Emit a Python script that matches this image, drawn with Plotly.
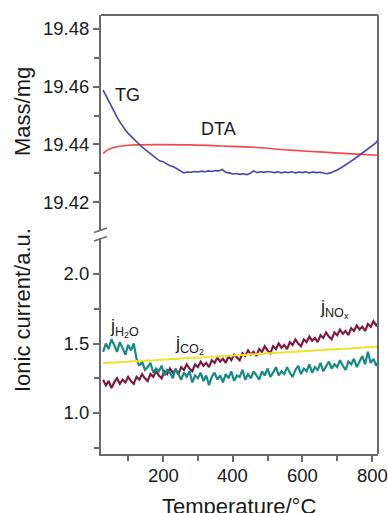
import plotly.graph_objects as go

# --- TG / DTA (upper panel) ---
tg_temp = [28, 36, 44, 52, 60, 68, 76, 84, 92, 100, 110, 120, 130, 140, 150, 160, 170,
           180, 190, 200, 210, 220, 230, 240, 250, 260, 270, 280, 290, 300, 310, 320,
           330, 340, 350, 360, 370, 380, 390, 400, 410, 420, 430, 440, 450, 460, 470,
           480, 490, 500, 510, 520, 530, 540, 550, 560, 570, 580, 590, 600, 610, 620,
           630, 640, 650, 660, 670, 680, 690, 700, 710, 720, 730, 740, 750, 760, 770,
           780, 790, 800, 810, 818]
tg_mass = [19.4588, 19.4568, 19.4549, 19.4530, 19.4512, 19.4494, 19.4478, 19.4463,
           19.4450, 19.4438, 19.4425, 19.4413, 19.4402, 19.4390, 19.4381, 19.4370,
           19.4361, 19.4352, 19.4343, 19.4340, 19.4332, 19.4326, 19.4322, 19.4314,
           19.4306, 19.4301, 19.4304, 19.4303, 19.4306, 19.4304, 19.4307, 19.4305,
           19.4308, 19.4306, 19.4309, 19.4308, 19.4313, 19.4303, 19.4301, 19.4297,
           19.4299, 19.4296, 19.4298, 19.4295, 19.4299, 19.4308, 19.4302, 19.4305,
           19.4303, 19.4306, 19.4304, 19.4302, 19.4305, 19.4301, 19.4304, 19.4302,
           19.4305, 19.4301, 19.4304, 19.4302, 19.4305, 19.4301, 19.4304, 19.4302,
           19.4303, 19.4300, 19.4298, 19.4301, 19.4305, 19.4311, 19.4318, 19.4325,
           19.4334, 19.4342, 19.4350, 19.4359, 19.4367, 19.4374, 19.4383, 19.4393,
           19.4404, 19.4418]

dta_temp = [28, 40, 50, 65, 86, 120, 182, 278, 373, 469, 565, 660, 756, 818]
dta_val = [19.4368, 19.4380, 19.4386, 19.4391, 19.4395, 19.4398, 19.4399, 19.4398,
           19.4394, 19.4389, 19.4380, 19.4373, 19.4366, 19.4362]

# --- Ionic currents (lower panel) ---
ms_temp = [28, 36, 44, 52, 60, 68, 76, 84, 92, 100, 108, 116, 124, 132, 140, 148, 156,
           164, 172, 180, 188, 196, 204, 212, 220, 228, 236, 244, 252, 260, 268, 276,
           284, 292, 300, 308, 316, 324, 332, 340, 348, 356, 364, 372, 380, 388, 396,
           404, 412, 420, 428, 436, 444, 452, 460, 468, 476, 484, 492, 500, 508, 516,
           524, 532, 540, 548, 556, 564, 572, 580, 588, 596, 604, 612, 620, 628, 636,
           644, 652, 660, 668, 676, 684, 692, 700, 708, 716, 724, 732, 740, 748, 756,
           764, 772, 780, 788, 796, 804, 812, 820]

j_h2o = [1.44, 1.50, 1.46, 1.53, 1.49, 1.44, 1.51, 1.47, 1.42, 1.49, 1.45, 1.50, 1.39,
         1.34, 1.37, 1.31, 1.33, 1.36, 1.29, 1.32, 1.30, 1.34, 1.27, 1.31, 1.29, 1.25,
         1.32, 1.28, 1.24, 1.29, 1.26, 1.30, 1.22, 1.27, 1.25, 1.29, 1.23, 1.27, 1.20,
         1.26, 1.29, 1.24, 1.27, 1.22, 1.28, 1.25, 1.30, 1.23, 1.27, 1.26, 1.31, 1.24,
         1.28, 1.25, 1.30, 1.27, 1.24, 1.30, 1.27, 1.32, 1.26, 1.29, 1.33, 1.27, 1.30,
         1.28, 1.33, 1.29, 1.26, 1.31, 1.34, 1.28, 1.32, 1.30, 1.35, 1.29, 1.33, 1.31,
         1.36, 1.30, 1.34, 1.37, 1.32, 1.35, 1.33, 1.38, 1.34, 1.31, 1.37, 1.35, 1.39,
         1.33, 1.37, 1.41, 1.35, 1.44, 1.36, 1.39, 1.34, 1.38]

j_nox = [1.24, 1.20, 1.23, 1.18, 1.22, 1.25, 1.21, 1.24, 1.22, 1.26, 1.23, 1.21, 1.26,
         1.24, 1.28, 1.25, 1.23, 1.28, 1.26, 1.30, 1.27, 1.25, 1.30, 1.28, 1.32, 1.29,
         1.31, 1.28, 1.33, 1.31, 1.35, 1.32, 1.30, 1.35, 1.33, 1.37, 1.34, 1.36, 1.33,
         1.38, 1.36, 1.40, 1.37, 1.39, 1.36, 1.41, 1.38, 1.42, 1.40, 1.38, 1.43, 1.41,
         1.45, 1.42, 1.44, 1.41, 1.46, 1.44, 1.48, 1.45, 1.43, 1.48, 1.46, 1.50, 1.47,
         1.49, 1.46, 1.51, 1.49, 1.53, 1.50, 1.48, 1.53, 1.51, 1.55, 1.52, 1.54, 1.51,
         1.56, 1.54, 1.58, 1.55, 1.53, 1.58, 1.56, 1.60, 1.57, 1.59, 1.56, 1.61, 1.59,
         1.63, 1.60, 1.62, 1.59, 1.64, 1.62, 1.66, 1.63, 1.65]

j_co2 = [1.357, 1.361, 1.358, 1.363, 1.362, 1.366, 1.363, 1.368, 1.367, 1.370, 1.369,
         1.372, 1.374, 1.371, 1.376, 1.375, 1.379, 1.377, 1.381, 1.380, 1.383, 1.382,
         1.386, 1.384, 1.388, 1.387, 1.391, 1.389, 1.393, 1.392, 1.395, 1.394, 1.398,
         1.396, 1.400, 1.399, 1.403, 1.401, 1.405, 1.404, 1.408, 1.406, 1.410, 1.409,
         1.412, 1.411, 1.415, 1.413, 1.417, 1.416, 1.420, 1.418, 1.422, 1.421, 1.425,
         1.423, 1.427, 1.425, 1.429, 1.428, 1.432, 1.430, 1.434, 1.433, 1.437, 1.435,
         1.439, 1.438, 1.442, 1.440, 1.444, 1.442, 1.446, 1.445, 1.449, 1.447, 1.451,
         1.450, 1.454, 1.452, 1.456, 1.455, 1.459, 1.457, 1.461, 1.459, 1.463, 1.462,
         1.466, 1.464, 1.468, 1.467, 1.471, 1.469, 1.473, 1.472, 1.476, 1.474, 1.478,
         1.477]

mass_ticks = [19.42, 19.44, 19.46, 19.48]
current_ticks = [1.0, 1.5, 2.0]
temp_ticks = [200, 400, 600, 800]

FONT = "Liberation Sans, Arial, Helvetica, sans-serif"
TXT = "#1a1a1a"
AX = "#6a6a6a"

# plot area geometry (pixels)
W, H = 388, 513
L, R, T, B = 101, 378, 15, 454


def px(xp):
    return (xp - L) / (R - L)


def py(yp):
    return (B - yp) / (B - T)


fig = go.Figure()

fig.add_trace(go.Scatter(x=dta_temp, y=dta_val, mode="lines", line=dict(color="#f24a4a", width=1.6),
                         xaxis="x", yaxis="y", line_shape="spline"))
fig.add_trace(go.Scatter(x=tg_temp, y=tg_mass, mode="lines", line=dict(color="#4646a6", width=1.6),
                         xaxis="x", yaxis="y"))

fig.add_trace(go.Scatter(x=ms_temp, y=j_nox, mode="lines", line=dict(color="#7c1d40", width=2.2),
                         xaxis="x", yaxis="y2"))
fig.add_trace(go.Scatter(x=ms_temp, y=j_h2o, mode="lines", line=dict(color="#178a88", width=2.2),
                         xaxis="x", yaxis="y2"))
fig.add_trace(go.Scatter(x=ms_temp, y=j_co2, mode="lines", line=dict(color="#ece32e", width=2),
                         xaxis="x", yaxis="y2"))

axis_font = dict(family=FONT, size=18.5, color=TXT)
title_font = dict(family=FONT, size=22, color=TXT)

fig.update_layout(
    width=W, height=H,
    margin=dict(l=L, r=W - R, t=T, b=H - B),
    paper_bgcolor="white", plot_bgcolor="white",
    showlegend=False,
    font=dict(family=FONT, color=TXT),
    xaxis=dict(domain=[0, 1], anchor="y2", range=[22, 817], automargin=False,
               tickvals=temp_ticks, ticks="outside", ticklen=6, tickwidth=1.5, tickcolor=AX,
               minor=dict(tickvals=[100, 300, 500, 700], ticks="outside", ticklen=5,
                          tickwidth=1.5, tickcolor=AX),
               showline=True, linecolor=AX, linewidth=2, showgrid=False, zeroline=False,
               showticklabels=False),
    yaxis=dict(domain=[py(231), 1], anchor="x", range=[19.40995, 19.48485], automargin=False,
               tickvals=mass_ticks, ticktext=[f"{v:.2f}" for v in mass_ticks],
               ticks="outside", ticklen=6, tickwidth=1.5, tickcolor=AX,
               minor=dict(tickvals=[19.43, 19.45, 19.47], ticks="outside", ticklen=5,
                          tickwidth=1.5, tickcolor=AX),
               showline=True, linecolor=AX, linewidth=2, showgrid=False, zeroline=False,
               tickfont=axis_font),
    yaxis2=dict(domain=[0, py(238)], anchor="x", range=[0.705, 2.259], automargin=False,
                tickvals=current_ticks, ticktext=[f"{v:.1f}" for v in current_ticks],
                ticks="outside", ticklen=6, tickwidth=1.5, tickcolor=AX,
                minor=dict(tickvals=[0.75, 1.25, 1.75], ticks="outside", ticklen=5,
                           tickwidth=1.5, tickcolor=AX),
                showline=True, linecolor=AX, linewidth=2, showgrid=False, zeroline=False,
                tickfont=axis_font),
)

# temperature tick labels, placed on the shared x axis
for t in temp_ticks:
    fig.add_annotation(text=str(t), x=t, xref="x", y=py(475), yref="paper",
                       xanchor="center", yanchor="middle", showarrow=False, font=axis_font)

# frame: top and right edges
fig.add_shape(type="line", xref="paper", yref="paper", x0=0, x1=1, y0=1, y1=1,
              line=dict(color=AX, width=2))
fig.add_shape(type="line", xref="paper", yref="paper", x0=1, x1=1, y0=0, y1=1,
              line=dict(color=AX, width=2))

# axis-break marks on the left spine
for y0, y1 in [(232.5, 228.0), (241.0, 236.5)]:
    fig.add_shape(type="line", xref="paper", yref="paper",
                  x0=px(94), x1=px(107), y0=py(y0), y1=py(y1),
                  line=dict(color=AX, width=1.5))

# axis titles
fig.add_annotation(text="Temperature/°C", xref="paper", yref="paper", x=px(239), y=py(506),
                   xanchor="center", yanchor="middle", showarrow=False, font=title_font)
fig.add_annotation(text="Mass/mg", xref="paper", yref="paper", x=px(22), y=py(112),
                   xanchor="center", yanchor="middle",
                   textangle=-90, showarrow=False, font=title_font)
fig.add_annotation(text="Ionic current/a.u.", xref="paper", yref="paper", x=px(22), y=py(310),
                   xanchor="center", yanchor="middle",
                   textangle=-90, showarrow=False, font=title_font)

# curve labels
lab = dict(family=FONT, size=18, color=TXT)
fig.add_annotation(text="TG", x=97, y=19.4572, xref="x", yref="y", showarrow=False, font=lab)
fig.add_annotation(text="DTA", x=358, y=19.4452, xref="x", yref="y", showarrow=False, font=lab)
fig.add_annotation(text="j<sub>H<sub>2</sub>O</sub>", x=43, y=1.615, xref="x", yref="y2",
                   xanchor="left", yanchor="middle", showarrow=False, font=lab)
fig.add_annotation(text="j<sub>CO<sub>2</sub></sub>", x=229, y=1.49, xref="x", yref="y2",
                   xanchor="left", yanchor="middle", showarrow=False, font=lab)
fig.add_annotation(text="j<sub>NO<sub>x</sub></sub>", x=645, y=1.745, xref="x", yref="y2",
                   xanchor="left", yanchor="middle", showarrow=False, font=lab)

fig.write_html("out.html")
